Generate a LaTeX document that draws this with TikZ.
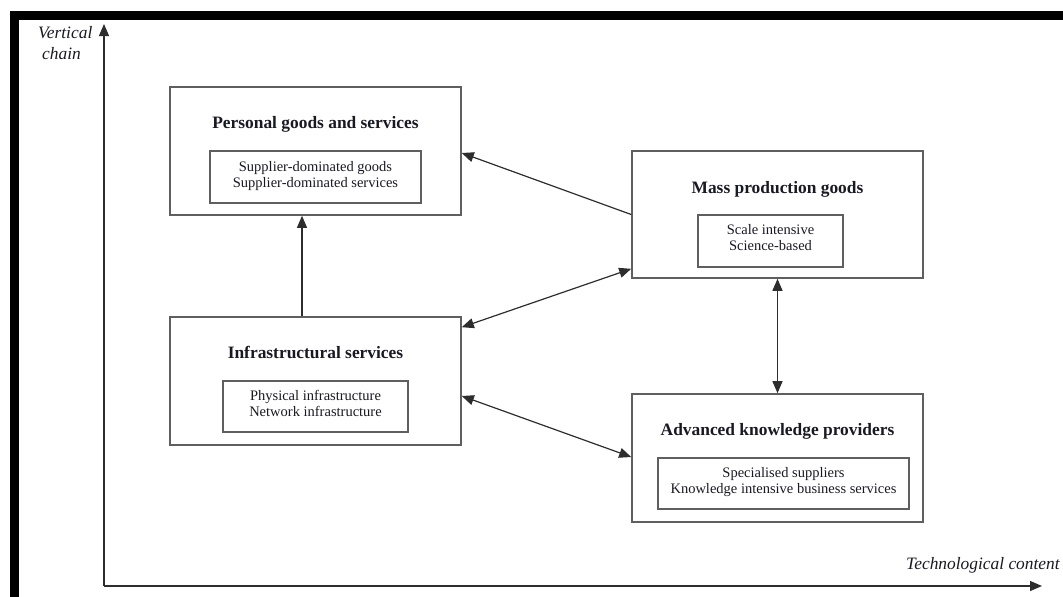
\documentclass[tikz,border=0pt]{standalone}
\usepackage{fontspec}
\setmainfont{Liberation Serif}
\usetikzlibrary{arrows.meta}
\definecolor{boxgray}{RGB}{95,95,95}
\definecolor{linegray}{RGB}{45,45,45}
\definecolor{inkc}{RGB}{25,25,35}
\begin{document}
\begin{tikzpicture}[x=1pt,y=-1pt,
  box/.style={draw=boxgray, line width=1.6pt, minimum width=291pt, minimum height=128pt, inner sep=0pt},
  innerbox/.style={draw=boxgray, line width=1.5pt, inner sep=0pt},
  titletext/.style={inner sep=0pt, text=inkc, font=\fontsize{17.4}{20}\selectfont\bfseries, anchor=base},
  itext/.style={inner sep=0pt, text=inkc, font=\fontsize{14.5}{16}\selectfont, align=center, anchor=base},
  axlab/.style={inner sep=0pt, text=inkc, font=\fontsize{17.4}{20}\selectfont\itshape, anchor=base west},
  conn/.style={draw=linegray, line width=1.2pt},
  tipend/.style={-{Triangle[length=12pt,width=10pt]}},
  tipboth/.style={{Triangle[length=12pt,width=10pt]}-{Triangle[length=12pt,width=10pt]}},
  axis/.style={draw=linegray, line width=1.3pt, -{Triangle[length=12pt,width=10pt]}}
]
\useasboundingbox (0,0) rectangle (1063,597);
% frame bars
\fill[black] (10,11) rectangle (1063,20);
\fill[black] (10,11) rectangle (18.5,597);

% axes
\coordinate (origin) at (104,586);
\coordinate (ytip) at (104,24);
\coordinate (xtip) at (1042,586);
\draw[axis] (origin) -- (ytip);
\draw[axis] (origin) -- (xtip);
\node[axlab] (vlab1) at (38,38) {Vertical};
\node[axlab] (vlab2) at (42,59) {chain};
\node[axlab] (xlab) at (906,569) {Technological content};

% Personal goods and services
\node[box] (pers) at (315.5,151) {};
\node[titletext] (perst) at (315.5,128) {Personal goods and services};
\node[innerbox, minimum width=211pt, minimum height=52pt] (persi) at (315.5,177) {};
\node[itext] (persx) at (315.5,187) {Supplier-dominated goods\\Supplier-dominated services};

% Mass production goods
\node[box, minimum height=127pt] (mass) at (777.5,214.5) {};
\node[titletext] (masst) at (777.5,193) {Mass production goods};
\node[innerbox, minimum width=145pt, minimum height=52pt] (massi) at (770.5,241) {};
\node[itext] (massx) at (770.5,250) {Scale intensive\\Science-based};

% Infrastructural services
\node[box] (infra) at (315.5,381) {};
\node[titletext] (infrat) at (315.5,358) {Infrastructural services};
\node[innerbox, minimum width=185pt, minimum height=51pt] (infrai) at (315.5,406.5) {};
\node[itext] (infrax) at (315.5,416) {Physical infrastructure\\Network infrastructure};

% Advanced knowledge providers
\node[box] (adv) at (777.5,458) {};
\node[titletext] (advt) at (777.5,435) {Advanced knowledge providers};
\node[innerbox, minimum width=251pt, minimum height=51pt] (advi) at (783.5,483.5) {};
\node[itext] (advx) at (783.5,493) {Specialised suppliers\\Knowledge intensive business services};

% connectors
\draw[conn, tipend] (mass.west) -- ([yshift=-2pt]pers.east);
\draw[conn, tipboth] ([yshift=-11pt]infra.north east) -- ([yshift=10pt]mass.south west);
\draw[conn, tipboth] ([yshift=-15pt]infra.east) -- ([yshift=1pt]adv.west);
\draw[conn, tipend] ([xshift=-13.5pt]infra.north) -- ([xshift=-13.5pt]pers.south);
\draw[conn, tipboth] (mass.south) -- (adv.north);
\end{tikzpicture}
\end{document}
